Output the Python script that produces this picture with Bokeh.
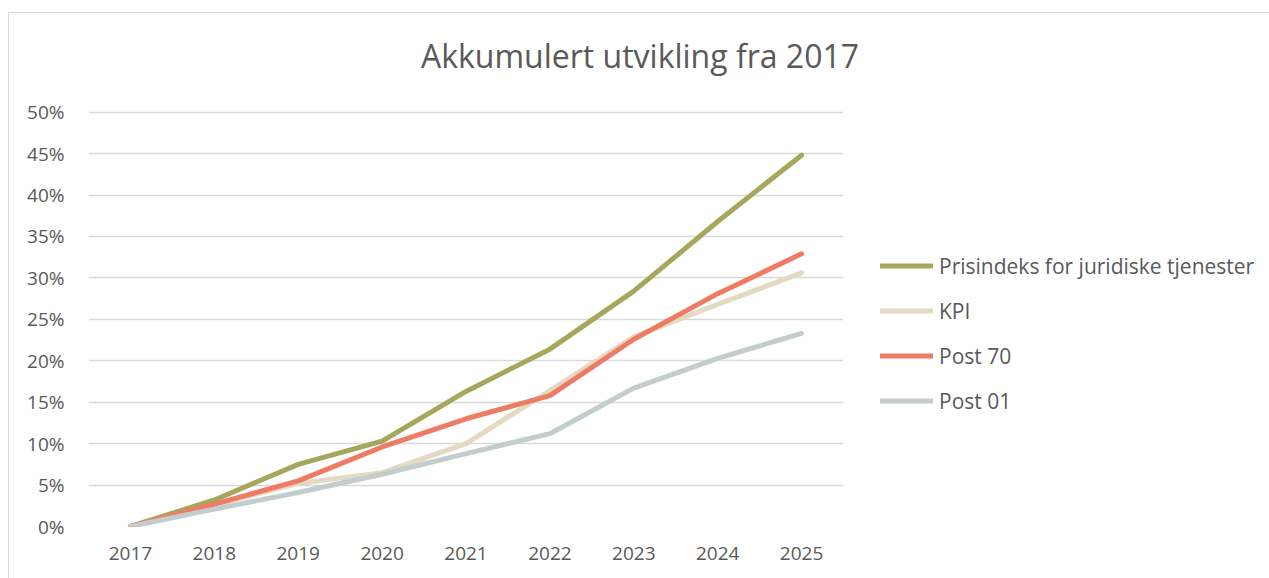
from bokeh.plotting import figure
from bokeh.layouts import column, row
from bokeh.models import (Legend, LegendItem, NumeralTickFormatter,
                          FixedTicker, Range1d, Title)
from bokeh.embed import file_html
from bokeh.resources import INLINE

years = ["2017", "2018", "2019", "2020", "2021", "2022", "2023", "2024", "2025"]
prisindeks = [0.0, 0.032, 0.075, 0.103, 0.163, 0.214, 0.284, 0.368, 0.448]
kpi = [0.0, 0.026, 0.052, 0.065, 0.100, 0.164, 0.229, 0.268, 0.306]
post70 = [0.0, 0.027, 0.055, 0.096, 0.130, 0.158, 0.226, 0.281, 0.329]
post01 = [0.0, 0.021, 0.041, 0.063, 0.088, 0.112, 0.167, 0.203, 0.233]
y_ticks = [0, 0.05, 0.10, 0.15, 0.20, 0.25, 0.30, 0.35, 0.40, 0.45, 0.50]

series = [
    ("Prisindeks for juridiske tjenester", prisindeks, "#A6A65C"),
    ("KPI", kpi, "#E4D9C3"),
    ("Post 70", post70, "#EE7B63"),
    ("Post 01", post01, "#C4CDCD"),
]

FONT = "Open Sans"
TXT = "#595959"
W, H = 1261, 566          # chart area placed at (8, 12) in the window
TH = 84                   # title strip height
PW = 836                  # plot width
PH = H - TH               # plot height

# ---- title strip
tf = figure(width=W, height=TH, output_backend="svg", toolbar_location=None,
            x_axis_type=None, y_axis_type=None,
            min_border_left=0, min_border_right=0, min_border_top=0, min_border_bottom=0,
            x_range=Range1d(0, 1), y_range=Range1d(0, 1))
tf.outline_line_color = None
tf.grid.visible = False
tf.add_layout(Title(text="Akkumulert utvikling fra 2017", align="center",
                    text_font=FONT, text_font_size="32px", text_font_style="normal",
                    text_color=TXT, standoff=37), "above")

# ---- main plot
p = figure(width=PW, height=PH, x_range=years, y_range=Range1d(0, 0.502),
           output_backend="svg", toolbar_location=None,
           min_border_left=79, min_border_right=2,
           min_border_top=97 - TH, min_border_bottom=PH - (513 - TH))
p.outline_line_color = None
p.xgrid.grid_line_color = None
p.ygrid.grid_line_color = "#D9D9D9"
p.ygrid.grid_line_width = 1.5
p.yaxis.ticker = FixedTicker(ticks=y_ticks)
p.yaxis.formatter = NumeralTickFormatter(format="0%")
for ax in (p.xaxis[0], p.yaxis[0]):
    ax.axis_line_color = None
    ax.major_tick_line_color = None
    ax.minor_tick_line_color = None
    ax.major_label_text_font = FONT
    ax.major_label_text_font_size = "19px"
    ax.major_label_text_color = TXT
p.yaxis.major_label_standoff = 18
p.xaxis.major_label_standoff = 14
p.x_range.range_padding = 0

# ---- legend strip (its lines lie outside its visible range; only the keys show)
lf = figure(width=W - PW, height=PH, output_backend="svg", toolbar_location=None,
            x_axis_type=None, y_axis_type=None,
            min_border_left=0, min_border_right=0, min_border_top=0, min_border_bottom=0,
            x_range=Range1d(-20, -19), y_range=Range1d(-20, -19))
lf.outline_line_color = None
lf.grid.visible = False

items = []
idx = list(range(len(years)))
for name, vals, col in series:
    p.line(x=years, y=vals, line_color=col, line_width=5,
           line_cap="round", line_join="round")
    key = lf.line(x=idx, y=vals, line_color=col, line_width=5, line_cap="round")
    items.append(LegendItem(label=name, renderers=[key]))

legend = Legend(items=items, location=(35, 111), orientation="vertical",
                border_line_color=None, background_fill_alpha=0,
                padding=0, margin=0, spacing=16,
                glyph_width=53, glyph_height=29, label_height=29,
                label_standoff=6, label_text_font=FONT,
                label_text_font_size="21px", label_text_color=TXT)
lf.add_layout(legend, "center")

layout = column(tf, row(p, lf, spacing=0), spacing=0,
                margin=(12, 0, 0, 8),
                styles={"border-left": "1.5px solid #D9D9D9",
                        "border-top": "1.5px solid #D9D9D9"})

open("out.html", "w").write(file_html(layout, INLINE))
